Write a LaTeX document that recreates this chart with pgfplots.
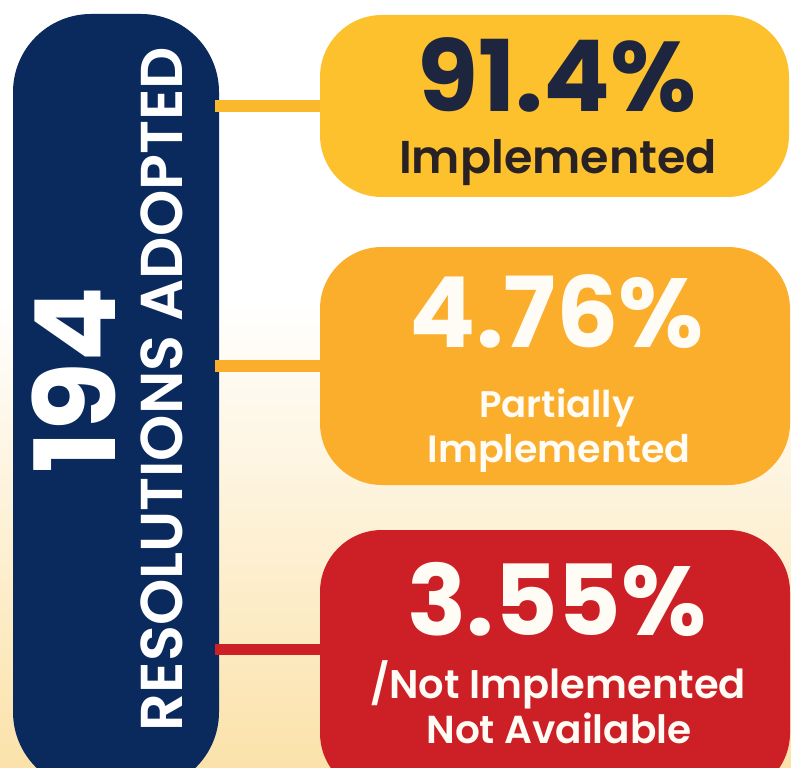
\documentclass[border=0pt]{standalone}
\usepackage{pgfplots}
\pgfplotsset{compat=1.18}
\usepackage{fontspec}
\setmainfont{Poppins}
\newfontfamily\psemi{Poppins SemiBold}
\definecolor{navy}{RGB}{10,42,94}
\definecolor{ylw}{RGB}{253,193,46}
\definecolor{ylwline}{RGB}{250,184,44}
\definecolor{org}{RGB}{251,173,44}
\definecolor{rd}{RGB}{204,31,38}
\definecolor{ink}{RGB}{30,37,62}
\definecolor{ink2}{RGB}{40,34,36}
\definecolor{peach}{RGB}{251,226,170}
\definecolor{offw}{RGB}{255,252,245}
\pgfplotstableread{
x y v
557 112 91.4
}\tabA
\pgfplotstableread{
x y v
557 347 4.76
557 635 3.55
}\tabB
\begin{document}
\begin{tikzpicture}
\begin{axis}[scale only axis, width=791pt, height=767pt,
  xmin=0, xmax=791, ymin=0, ymax=767, y dir=reverse,
  hide axis, clip=true,
  /pgf/number format/assume math mode=true]
% background
\fill[white] (axis cs:0,0) rectangle (axis cs:791,301);
\shade[top color=white, bottom color=peach] (axis cs:0,300) rectangle (axis cs:791,767);
% navy pill
\addplot[draw=none, fill=navy, rounded corners=78pt] coordinates {(13,14) (219,14) (219,790) (13,790)} -- cycle;
% connectors
\addplot[ylwline, line width=12pt] coordinates {(215,106) (326,106)};
\addplot[org, line width=12pt] coordinates {(215,366) (326,366)};
\addplot[rd, line width=11pt] coordinates {(215,649) (326,649)};
% boxes
\addplot[draw=none, fill=ylw, rounded corners=62pt] coordinates {(320,15) (789,15) (789,197) (320,197)} -- cycle;
\addplot[draw=none, fill=org, rounded corners=62pt] coordinates {(320,247) (790,247) (790,485) (320,485)} -- cycle;
\addplot[draw=none, fill=rd, rounded corners=62pt] coordinates {(320,530) (790,530) (790,795) (320,795)} -- cycle;
% percentages
\addplot[draw=none, mark=none, point meta=explicit,
  nodes near coords={\pgfmathprintnumber{\pgfplotspointmeta}\%},
  nodes near coords style={anchor=base, inner sep=0pt, text=ink, font=\fontsize{99}{99}\selectfont\bfseries}]
  table[x=x, y=y, meta=v] {\tabA};
\addplot[draw=none, mark=none, point meta=explicit,
  nodes near coords={\pgfmathprintnumber{\pgfplotspointmeta}\%},
  nodes near coords style={anchor=base, inner sep=0pt, text=offw, font=\fontsize{98}{98}\selectfont\bfseries}]
  table[x=x, y=y, meta=v] {\tabB};
% labels
\node[anchor=base, inner sep=0pt, text=ink2, font=\fontsize{46}{46}\psemi] at (axis cs:558,174) {Implemented};
\node[anchor=base, inner sep=0pt, text=offw, font=\fontsize{37}{37}\psemi] at (axis cs:557,417) {Partially};
\node[anchor=base, inner sep=0pt, text=offw, font=\fontsize{38}{38}\psemi] at (axis cs:559,462) {Implemented};
\node[anchor=base, inner sep=0pt, text=offw, font=\fontsize{40}{40}\psemi] at (axis cs:558,698) {/Not Implemented};
\node[anchor=base, inner sep=0pt, text=offw, font=\fontsize{39}{39}\psemi] at (axis cs:559,743) {Not Available};
\node[anchor=base, rotate=90, inner sep=0pt, text=white, font=\fontsize{112}{112}\selectfont\bfseries] at (axis cs:115,380) {194};
\node[anchor=base, rotate=90, inner sep=0pt, text=white, font=\fontsize{59}{59}\psemi] at (axis cs:182,389) {RESOLUTIONS ADOPTED};
\end{axis}
\end{tikzpicture}
\end{document}
